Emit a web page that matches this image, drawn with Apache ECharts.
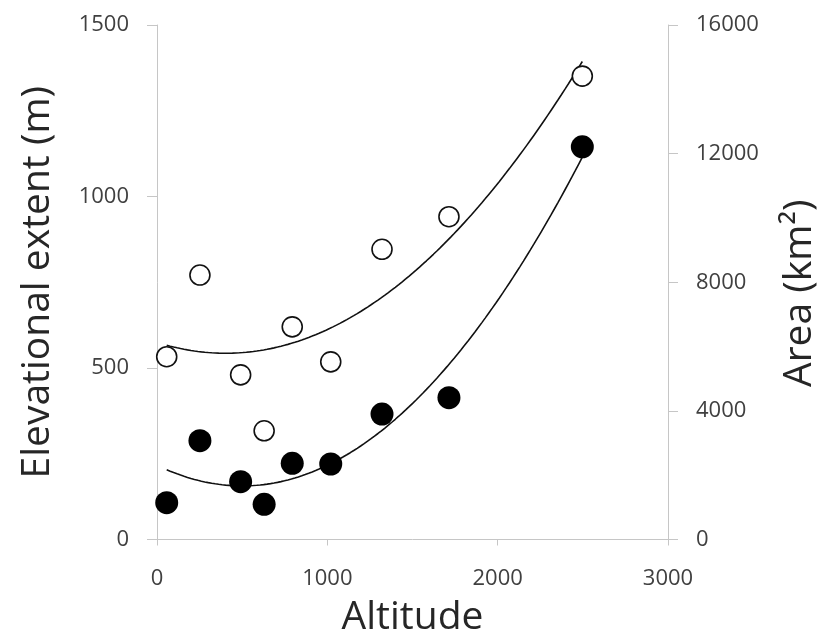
<!DOCTYPE html>
<html>
<head>
<meta charset="utf-8">
<script src="https://cdn.jsdelivr.net/npm/echarts@6/dist/echarts.min.js"></script>
<style>html,body{margin:0;padding:0;background:#fff}#c{width:823px;height:634px}</style>
</head>
<body>
<div id="c"></div>
<script>
// Altitude (m) of each site
const altitude = [57, 252, 491, 629, 794, 1020, 1321, 1714, 2497];
// Elevational extent (m), open circles, left axis
const elevExtent = [533, 771, 480, 317, 620, 518, 846, 941, 1351];
// Area (km²), filled circles, right axis
const area = [1144, 3073, 1798, 1095, 2370, 2348, 3900, 4411, 12212];

const xTicks = [0, 1000, 2000, 3000];
const leftTicks = [0, 500, 1000, 1500];
const rightTicks = [0, 4000, 8000, 12000, 16000];

// Second-order polynomial least-squares trendline (as in the original Excel chart)
function quadFit(xs, ys) {
  let s = [0,0,0,0,0], t = [0,0,0];
  for (let i = 0; i < xs.length; i++) {
    const x = xs[i], y = ys[i];
    let p = 1;
    for (let k = 0; k < 5; k++) { s[k] += p; if (k < 3) t[k] += p * y; p *= x; }
  }
  const A = [[s[0],s[1],s[2],t[0]],[s[1],s[2],s[3],t[1]],[s[2],s[3],s[4],t[2]]];
  for (let i = 0; i < 3; i++) {
    for (let j = i+1; j < 3; j++) {
      const f = A[j][i] / A[i][i];
      for (let k = i; k < 4; k++) A[j][k] -= f * A[i][k];
    }
  }
  const c = [0,0,0];
  for (let i = 2; i >= 0; i--) {
    let v = A[i][3];
    for (let k = i+1; k < 3; k++) v -= A[i][k] * c[k];
    c[i] = v / A[i][i];
  }
  return c;
}
function trend(xs, ys) {
  const c = quadFit(xs, ys);
  const x0 = Math.min(...xs), x1 = Math.max(...xs);
  const out = [];
  const n = 120;
  for (let i = 0; i <= n; i++) {
    const x = x0 + (x1 - x0) * i / n;
    out.push([x, c[0] + c[1]*x + c[2]*x*x]);
  }
  return out;
}

const elevPts = altitude.map((a, i) => [a, elevExtent[i]]);
const areaPts = altitude.map((a, i) => [a, area[i]]);

const FONT = 'Open Sans';
const axisLineStyle = { color: '#c6c6c6', width: 1 };
const tickLabel = { color: '#404040', fontFamily: FONT, fontSize: 22, margin: 28, formatter: v => String(v) };
const titleStyle = { color: '#262626', fontFamily: FONT, fontSize: 39 };

const chart = echarts.init(document.getElementById('c'), null, { renderer: 'canvas' });
chart.setOption({
  animation: false,
  backgroundColor: '#ffffff',
  grid: { left: 157, right: 155, top: 25, bottom: 94.5, containLabel: false, outerBoundsMode: 'none' },
  xAxis: {
    type: 'value', min: xTicks[0], max: xTicks[xTicks.length-1], interval: 1000,
    name: 'Altitude', nameLocation: 'middle', nameGap: 59,
    nameTextStyle: titleStyle,
    axisLine: { lineStyle: axisLineStyle },
    axisTick: { show: true, length: 6, lineStyle: axisLineStyle },
    axisLabel: tickLabel,
    splitLine: { show: false }
  },
  yAxis: [{
    type: 'value', position: 'left', min: leftTicks[0], max: leftTicks[leftTicks.length-1], interval: 500,
    name: 'Elevational extent (m)', nameLocation: 'middle', nameGap: 100, nameRotate: 90,
    nameTextStyle: titleStyle,
    axisLine: { show: true, lineStyle: axisLineStyle },
    axisTick: { show: true, length: 10, lineStyle: axisLineStyle },
    axisLabel: tickLabel,
    splitLine: { show: false }
  }, {
    type: 'value', position: 'right', min: rightTicks[0], max: rightTicks[rightTicks.length-1], interval: 4000,
    name: 'Area (km²)', nameLocation: 'middle', nameGap: 112, nameRotate: 90,
    nameTextStyle: Object.assign({}, titleStyle, { padding: [0, 22, 0, 0] }),
    axisLine: { show: true, lineStyle: axisLineStyle },
    axisTick: { show: true, length: 10, lineStyle: axisLineStyle },
    axisLabel: tickLabel,
    splitLine: { show: false }
  }],
  series: [{
    name: 'Elevational extent trend', type: 'line', yAxisIndex: 0,
    data: trend(altitude, elevExtent), showSymbol: false, smooth: false,
    lineStyle: { color: '#111', width: 1.6 }, z: 2, silent: true
  }, {
    name: 'Area trend', type: 'line', yAxisIndex: 1,
    data: trend(altitude, area), showSymbol: false, smooth: false,
    lineStyle: { color: '#111', width: 1.6 }, z: 2, silent: true
  }, {
    name: 'Elevational extent', type: 'scatter', yAxisIndex: 0, data: elevPts,
    symbol: 'circle', symbolSize: 20,
    itemStyle: { color: '#ffffff', borderColor: '#111', borderWidth: 1.6, opacity: 1 }, z: 3
  }, {
    name: 'Area', type: 'scatter', yAxisIndex: 1, data: areaPts,
    symbol: 'circle', symbolSize: 23,
    itemStyle: { color: '#000000', opacity: 1 }, z: 3
  }]
});
</script>
</body>
</html>
